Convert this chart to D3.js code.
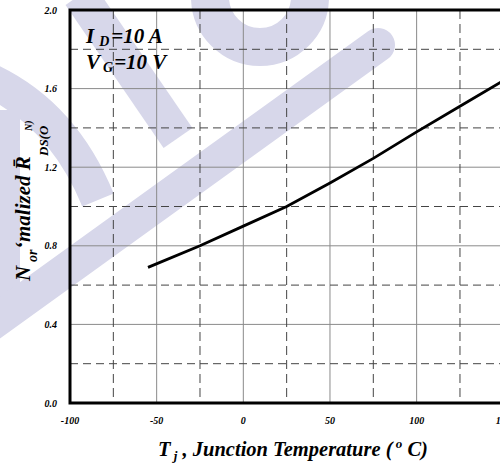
<!DOCTYPE html>
<html>
<head>
<meta charset="utf-8">
<script src="https://cdn.jsdelivr.net/npm/d3@7"></script>
<style>
  body { margin: 0; background: #fff; }
  svg { display: block; }
  .lbl { font-family: "Liberation Serif", "Times New Roman", serif; font-weight: bold; font-style: italic; }
</style>
</head>
<body>
<script>
var width = 500, height = 463;

// chart values
var temps = [-55, -25, 0, 25, 50, 75, 100, 125, 150];
var rdsOn = [0.69, 0.80, 0.90, 1.00, 1.12, 1.245, 1.38, 1.51, 1.64];
var xTicks = [-100, -50, 0, 50, 100, 150];
var xMinor = [-75, -25, 25, 75, 125];
var yTicks = [0.0, 0.4, 0.8, 1.2, 1.6, 2.0];
var yMinor = [0.2, 0.6, 1.0, 1.4, 1.8];

var svg, x, y, plot;

function init() {
    svg = d3.select("body")
      .append("svg")
      .attr("width", width)
      .attr("height", height);

    drawWatermark();

    x = d3.scaleLinear().domain([-100, 150]).range([70, 503.3]);
    y = d3.scaleLinear().domain([0, 2]).range([403, 10]);

    plot = svg.append("g");
    drawGrid();
    drawCurve();
    drawFrame();
    drawLabels();
}

// faint lavender logo stamped across the sheet
function drawWatermark(){
    var wm = svg.append("g")
        .attr("fill", "none")
        .attr("stroke", "#d7d7ea");

    wm.append("path").attr("d", "M80,-5L178,138").attr("stroke-width", 35);
    wm.append("circle").attr("cx", 260).attr("cy", -3).attr("r", 50).attr("stroke-width", 38);
    wm.append("path").attr("d", "M-15,78Q62,112 98,200").attr("stroke-width", 34);
    wm.append("path").attr("d", "M4,110L4,300").attr("stroke-width", 32);
    wm.append("path").attr("d", "M-20,332L378,45")
        .attr("stroke-width", 34)
        .attr("stroke-linecap", "round");
}

function drawGrid(){
    plot.selectAll(".vgrid")
        .data(xTicks.slice(1))
        .enter().append("line")
        .attr("class", "vgrid")
        .attr("x1", function(d){ return x(d); })
        .attr("x2", function(d){ return x(d); })
        .attr("y1", y(2)).attr("y2", y(0))
        .attr("stroke", "#8a8a8a").attr("stroke-width", 1);

    plot.selectAll(".hgrid")
        .data(yTicks.slice(1, -1))
        .enter().append("line")
        .attr("class", "hgrid")
        .attr("x1", x(-100)).attr("x2", x(150))
        .attr("y1", function(d){ return y(d); })
        .attr("y2", function(d){ return y(d); })
        .attr("stroke", "#8a8a8a").attr("stroke-width", 1);

    plot.selectAll(".vdash")
        .data(xMinor)
        .enter().append("line")
        .attr("class", "vdash")
        .attr("x1", function(d){ return x(d); })
        .attr("x2", function(d){ return x(d); })
        .attr("y1", y(2)).attr("y2", y(0))
        .attr("stroke", "#444").attr("stroke-width", 1)
        .attr("stroke-dasharray", "9,5");

    plot.selectAll(".hdash")
        .data(yMinor)
        .enter().append("line")
        .attr("class", "hdash")
        .attr("x1", x(-100)).attr("x2", x(150))
        .attr("y1", function(d){ return y(d); })
        .attr("y2", function(d){ return y(d); })
        .attr("stroke", "#444").attr("stroke-width", 1)
        .attr("stroke-dasharray", "8,5");
}

function drawCurve(){
    var line = d3.line()
        .x(function(d, i){ return x(temps[i]); })
        .y(function(d){ return y(d); });

    plot.append("path")
        .datum(rdsOn)
        .attr("d", line)
        .attr("fill", "none")
        .attr("stroke", "#000")
        .attr("stroke-width", 2.8);
}

function drawFrame(){
    plot.append("path")
        .attr("d", "M" + x(150) + "," + y(2) + "H" + x(-100) + "V" + y(0) + "H" + x(150))
        .attr("fill", "none")
        .attr("stroke", "#000")
        .attr("stroke-width", 3);
}

function drawLabels(){
    plot.selectAll(".ylab")
        .data(yTicks)
        .enter().append("text")
        .attr("class", "lbl")
        .attr("x", 57)
        .attr("y", function(d){ return y(d) + 3.5; })
        .attr("text-anchor", "end")
        .attr("font-size", "10px")
        .text(function(d){ return d.toFixed(1); });

    plot.selectAll(".xlab")
        .data(xTicks)
        .enter().append("text")
        .attr("class", "lbl")
        .attr("x", function(d){ return x(d); })
        .attr("y", 424)
        .attr("text-anchor", "middle")
        .attr("font-size", "10px")
        .text(function(d){ return d; });

    // x axis title
    var xt = svg.append("text")
        .attr("class", "lbl")
        .attr("x", 158).attr("y", 456)
        .attr("font-size", "20.5px");
    xt.append("tspan").text("T");
    xt.append("tspan").attr("font-size", "13px").attr("dy", 4).text(" j");
    xt.append("tspan").attr("dy", -4).text("  , Junction Temperature (");
    xt.append("tspan").attr("font-size", "13px").attr("dy", -8).text(" o");
    xt.append("tspan").attr("dy", 8).text(" C)");

    // y axis title, as printed (subscripts displaced)
    var yt = svg.append("g").attr("transform", "rotate(-90)");
    yt.append("text").attr("class", "lbl").attr("x", -281).attr("y", 30)
        .attr("font-size", "21px").text("N");
    yt.append("text").attr("class", "lbl").attr("x", -262).attr("y", 37)
        .attr("font-size", "14px").text("or");
    yt.append("text").attr("class", "lbl").attr("x", -249).attr("y", 30)
        .attr("font-size", "21px").text("\u2018malized R\u0304");
    yt.append("text").attr("class", "lbl").attr("x", -156).attr("y", 48)
        .attr("font-size", "13px").text("DS(O");
    yt.append("text").attr("class", "lbl").attr("x", -131).attr("y", 32)
        .attr("font-size", "10px").text("N)");

    // test conditions
    var c1 = svg.append("text").attr("class", "lbl")
        .attr("x", 86).attr("y", 43).attr("font-size", "21px");
    c1.append("tspan").text("I");
    c1.append("tspan").attr("font-size", "14px").attr("dx", 5).attr("dy", 3).text("D");
    c1.append("tspan").attr("dx", 2).attr("dy", -3).text("=10 A");

    var c2 = svg.append("text").attr("class", "lbl")
        .attr("x", 86).attr("y", 69).attr("font-size", "21px");
    c2.append("tspan").text("V");
    c2.append("tspan").attr("font-size", "14px").attr("dx", 3).attr("dy", 3).text("G");
    c2.append("tspan").attr("dx", 1).attr("dy", -3).text("=10 V");
}

init();
</script>
</body>
</html>
